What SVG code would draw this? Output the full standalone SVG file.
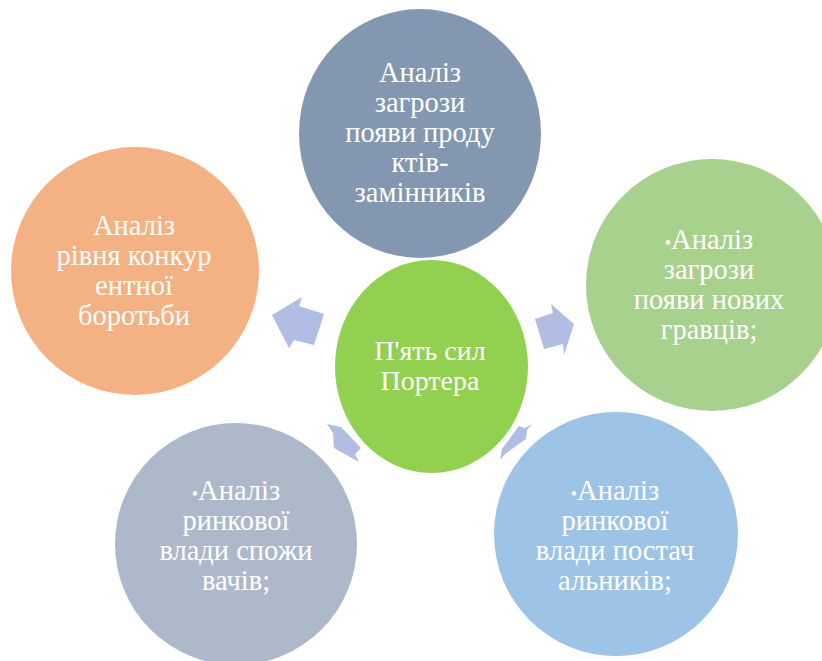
<svg xmlns="http://www.w3.org/2000/svg" width="822" height="661" viewBox="0 0 822 661">
<style>
.t{font-family:"Liberation Serif","Times New Roman",serif;font-size:28.5px;fill:#ffffff;text-anchor:middle}
.c{font-size:28px}
.b{font-size:18px}
.a{fill:#B1BDE2}
</style>
<rect width="822" height="661" fill="#ffffff"/>
<g id="connectors">
<polygon class="a" points="272,315 302,297 299,306 324,314 314,345 294,340 289,348"/>
<polygon class="a" points="574,324 551,304 553,313 535,319 544,349 563,344 564,355"/>
<polygon class="a" points="327,424 341,427 361,448 355,454 359,462 334,448 333,433"/>
<polygon class="a" points="532,424 527,430 526,439 505,454 500,460 502,449 519,426 525,428"/>
</g>
<g id="node-top">
<ellipse cx="420" cy="133.5" rx="121" ry="124.5" fill="#8497B0"/>
<text class="t" x="420" y="82">Аналіз</text>
<text class="t" x="420" y="112">загрози</text>
<text class="t" x="420" y="142">появи проду</text>
<text class="t" x="420" y="172">ктів-</text>
<text class="t" x="420" y="202">замінників</text>
</g>
<g id="node-left">
<circle cx="135" cy="271" r="124" fill="#F4B183"/>
<text class="t" x="134" y="235">Аналіз</text>
<text class="t" x="134" y="265">рівня конкур</text>
<text class="t" x="134" y="295">ентної</text>
<text class="t" x="134" y="325">боротьби</text>
</g>
<g id="node-right">
<circle cx="712" cy="285" r="126" fill="#A9D18E"/>
<text class="t" x="709" y="249"><tspan class="b">•</tspan>Аналіз</text>
<text class="t" x="709" y="279">загрози</text>
<text class="t" x="709" y="309">появи нових</text>
<text class="t" x="709" y="339">гравців;</text>
</g>
<g id="node-bottom-left">
<circle cx="236" cy="544" r="121" fill="#ADB9CA"/>
<text class="t" x="236" y="500"><tspan class="b">•</tspan>Аналіз</text>
<text class="t" x="236" y="530">ринкової</text>
<text class="t" x="236" y="560">влади спожи</text>
<text class="t" x="236" y="590">вачів;</text>
</g>
<g id="node-bottom-right">
<circle cx="616" cy="534" r="122" fill="#9DC3E6"/>
<text class="t" x="615" y="500"><tspan class="b">•</tspan>Аналіз</text>
<text class="t" x="615" y="530">ринкової</text>
<text class="t" x="615" y="560">влади постач</text>
<text class="t" x="615" y="590">альників;</text>
</g>
<g id="node-center">
<ellipse cx="431.5" cy="366.5" rx="96.5" ry="106.5" fill="#92D050"/>
<text class="t c" x="430" y="360">П'ять сил</text>
<text class="t c" x="430" y="390">Портера</text>
</g>
</svg>
